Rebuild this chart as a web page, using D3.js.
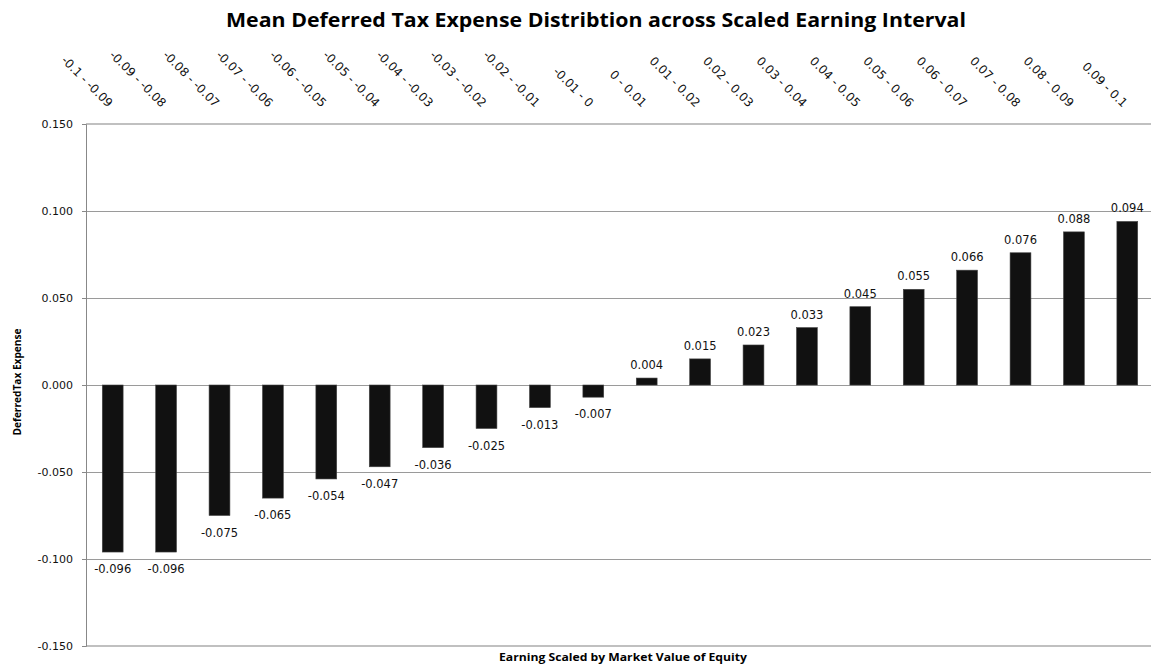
<!DOCTYPE html>
<html>
<head>
<meta charset="utf-8">
<script src="https://cdn.jsdelivr.net/npm/d3@7"></script>
<style>
  body { margin: 0; background: #fff; }
  svg { display: block; }
</style>
</head>
<body>
<div id="chart"></div>
<script>
// interval labels (top axis) and mean deferred tax expense per interval
var intervals = ["-0.1 - -0.09", "-0.09 - -0.08", "-0.08 - -0.07", "-0.07 - -0.06", "-0.06 - -0.05",
  "-0.05 - -0.04", "-0.04 - -0.03", "-0.03 - -0.02", "-0.02 - -0.01", "-0.01 - 0",
  "0 - 0.01", "0.01 - 0.02", "0.02 - 0.03", "0.03 - 0.04", "0.04 - 0.05",
  "0.05 - 0.06", "0.06 - 0.07", "0.07 - 0.08", "0.08 - 0.09", "0.09 - 0.1"];
var meanDeferredTax = [-0.096, -0.096, -0.075, -0.065, -0.054, -0.047, -0.036, -0.025, -0.013, -0.007,
  0.004, 0.015, 0.023, 0.033, 0.045, 0.055, 0.066, 0.076, 0.088, 0.094];
var yTicks = [-0.15, -0.10, -0.05, 0, 0.05, 0.10, 0.15];

var width = 1151, height = 669;
var plotLeft = 86, plotRight = 1154, plotTop = 124, plotBottom = 646;

// plain hyphen for negatives, like the original
var fmt = function (v) { return (Math.abs(v) < 1e-9 ? 0 : v).toFixed(3); };

var svg = d3.select("#chart").append("svg")
  .attr("width", width)
  .attr("height", height)
  .style("font-family", "'DejaVu Sans', sans-serif");

var data = intervals.map(function (d, i) {
  return { name: d, value: meanDeferredTax[i] };
});

var x = d3.scaleBand()
  .domain(intervals)
  .range([plotLeft, plotRight])
  .paddingInner(0.61)
  .paddingOuter(0.305);

var y = d3.scaleLinear()
  .domain([-0.15, 0.15])
  .range([plotBottom, plotTop]);

// gridlines
svg.append("g")
  .selectAll("line")
  .data(yTicks)
  .enter().append("line")
  .attr("x1", plotLeft)
  .attr("x2", width)
  .attr("y1", function (d) { return y(d); })
  .attr("y2", function (d) { return y(d); })
  .attr("stroke", function (d) { return Math.abs(d) > 0.14 ? "#c0c0c0" : "#9a9a9a"; })
  .attr("stroke-width", function (d) { return Math.abs(d) > 0.14 ? 2 : 1; })
  .attr("shape-rendering", "crispEdges");

// y axis
var yAxis = d3.axisLeft(y)
  .tickValues(yTicks)
  .tickSize(4)
  .tickPadding(9)
  .tickFormat(fmt);

var gy = svg.append("g")
  .attr("transform", "translate(" + plotLeft + ",0)")
  .call(yAxis);
gy.select(".domain").attr("stroke", "#888");
gy.selectAll(".tick line").attr("stroke", "#888");
gy.selectAll(".tick text")
  .attr("fill", "#111")
  .style("font-size", "11px")
  .style("font-family", "'DejaVu Sans', sans-serif");

// bars
svg.append("g")
  .selectAll("rect")
  .data(data)
  .enter().append("rect")
  .attr("x", function (d) { return x(d.name); })
  .attr("width", x.bandwidth())
  .attr("y", function (d) { return y(Math.max(0, d.value)); })
  .attr("height", function (d) { return Math.abs(y(d.value) - y(0)); })
  .attr("fill", "#111")
  .attr("stroke", "#444")
  .attr("stroke-width", 0.6);

// value labels
svg.append("g")
  .selectAll("text")
  .data(data)
  .enter().append("text")
  .attr("x", function (d) { return x(d.name) + x.bandwidth() / 2; })
  .attr("y", function (d) {
    return d.value >= 0 ? y(d.value) - 9 : y(d.value) + 21;
  })
  .attr("text-anchor", "middle")
  .style("font-size", "11.5px")
  .attr("fill", "#111")
  .text(function (d) { return fmt(d.value); });

// category labels along the top, rotated
svg.append("g")
  .selectAll("text")
  .data(intervals)
  .enter().append("text")
  .attr("transform", function (d) {
    return "translate(" + (x(d) + x.bandwidth() / 2 - 5) + ",108) rotate(45)";
  })
  .attr("text-anchor", "end")
  .style("font-size", "12px")
  .attr("fill", "#111")
  .text(function (d) { return d; });

// title
svg.append("text")
  .attr("x", 596)
  .attr("y", 27)
  .attr("text-anchor", "middle")
  .attr("textLength", 740)
  .attr("lengthAdjust", "spacingAndGlyphs")
  .style("font-family", "'Open Sans', sans-serif")
  .style("font-weight", "bold")
  .style("font-size", "19px")
  .text("Mean Deferred Tax Expense Distribtion across Scaled Earning Interval");

// axis titles
svg.append("text")
  .attr("transform", "translate(21,382) rotate(-90)")
  .attr("text-anchor", "middle")
  .attr("textLength", 107)
  .attr("lengthAdjust", "spacingAndGlyphs")
  .style("font-family", "'Open Sans', sans-serif")
  .style("font-weight", "bold")
  .style("font-size", "10px")
  .text("DeferredTax Expense");

svg.append("text")
  .attr("x", 623)
  .attr("y", 661)
  .attr("text-anchor", "middle")
  .attr("textLength", 248)
  .attr("lengthAdjust", "spacingAndGlyphs")
  .style("font-family", "'Open Sans', sans-serif")
  .style("font-weight", "bold")
  .style("font-size", "10px")
  .text("Earning Scaled by Market Value of Equity");
</script>
</body>
</html>
